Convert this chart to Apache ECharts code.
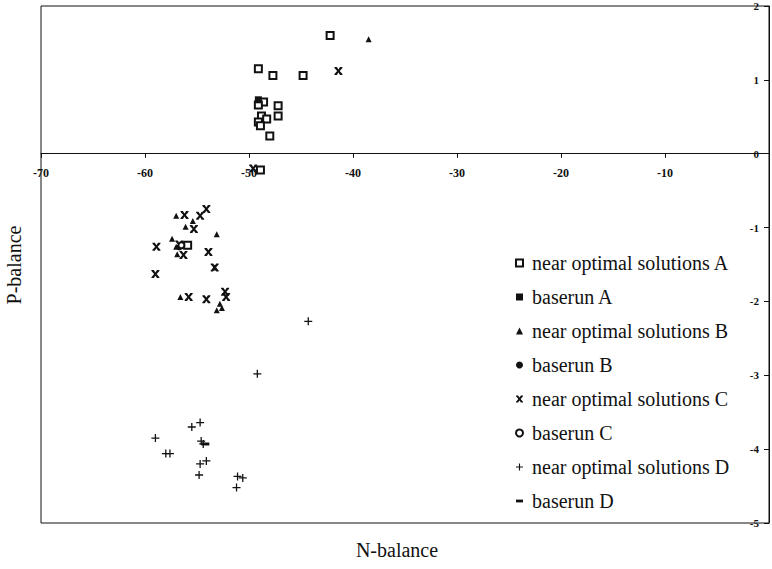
<!DOCTYPE html>
<html>
<head>
<meta charset="utf-8">
<title>N-balance vs P-balance</title>
<script src="https://cdn.jsdelivr.net/npm/echarts@6/dist/echarts.min.js"></script>
<style>
  html, body { margin: 0; padding: 0; background: #fff; }
  #chart { width: 772px; height: 569px; }
</style>
</head>
<body>
<div id="chart"></div>
<script>
// Axis ranges and ticks
const xRange = [-70, 0];
const xStep = 10;
const yRange = [-5, 2];
const yStep = 1;
const xTitle = 'N-balance';
const yTitle = 'P-balance';

// [N-balance, P-balance] pairs per series
const nearOptimalA = [[-42.2, 1.60], [-49.1, 1.15], [-47.7, 1.06], [-44.8, 1.06], [-48.6, 0.70],
  [-49.1, 0.66], [-47.2, 0.65], [-47.2, 0.51], [-48.8, 0.51], [-48.3, 0.47], [-49.1, 0.43],
  [-48.9, 0.38], [-48.0, 0.24], [-48.9, -0.22], [-55.9, -1.24]];
const baserunA = [[-49.1, 0.73]];
const nearOptimalB = [[-38.5, 1.55], [-57.0, -0.84], [-55.4, -0.91], [-56.1, -0.99], [-53.1, -1.09],
  [-57.4, -1.15], [-57.0, -1.26], [-56.9, -1.36], [-53.3, -1.54], [-56.6, -1.94], [-52.8, -2.03],
  [-52.6, -2.09], [-53.1, -2.12]];
const baserunB = [[-56.7, -1.27]];
const nearOptimalC = [[-41.4, 1.12], [-49.6, -0.20], [-56.2, -0.83], [-54.1, -0.75], [-54.7, -0.84],
  [-55.3, -1.02], [-58.9, -1.26], [-56.7, -1.23], [-56.3, -1.37], [-53.9, -1.33], [-53.3, -1.54],
  [-59.0, -1.63], [-55.8, -1.94], [-54.1, -1.97], [-52.3, -1.87], [-52.2, -1.94]];
const baserunC = [[-56.5, -1.24]];
const nearOptimalD = [[-44.3, -2.27], [-49.2, -2.98], [-54.7, -3.64], [-55.5, -3.70], [-59.0, -3.85],
  [-54.6, -3.89], [-54.4, -3.93], [-58.0, -4.06], [-57.6, -4.06], [-54.1, -4.16], [-54.7, -4.20],
  [-54.8, -4.35], [-51.1, -4.37], [-50.6, -4.39], [-51.2, -4.52]];
const baserunD = [[-54.2, -3.93]];

const seriesNames = ['near optimal solutions A', 'baserun A', 'near optimal solutions B', 'baserun B',
  'near optimal solutions C', 'baserun C', 'near optimal solutions D', 'baserun D'];

// Marker shapes
const xMarker = 'path://M0,0H3L5,3L7,0H10V1.2L6.6,5L10,8.8V10H7L5,7L3,10H0V8.8L3.4,5L0,1.2Z';
const plusMarker = 'path://M4.2,0H5.8V4.2H10V5.8H5.8V10H4.2V5.8H0V4.2H4.2Z';
const dashMarker = 'path://M0,0H10V4H0Z';

const serif = '"Liberation Serif", "DejaVu Serif", serif';
const ink = '#111';

// Plot box geometry; the N axis is drawn where P-balance equals zero
const gridTop = 6;
const gridBottom = 46;
const gridHeight = 569 - gridTop - gridBottom;
const zeroOffset = -gridHeight * (0 - yRange[0]) / (yRange[1] - yRange[0]);

function scatter(name, data, symbol, size, style) {
  return {
    name: name,
    type: 'scatter',
    data: data,
    symbol: symbol,
    symbolSize: size,
    itemStyle: Object.assign({ color: ink, opacity: 1 }, style || {}),
    emphasis: { disabled: true },
    z: 3
  };
}

const chart = echarts.init(document.getElementById('chart'), null, { renderer: 'svg' });

chart.setOption({
  backgroundColor: '#fff',
  animation: false,
  textStyle: { fontFamily: serif, color: ink },
  grid: {
    left: 41, top: gridTop, bottom: gridBottom, right: -1,
    show: true, borderColor: ink, borderWidth: 1, backgroundColor: 'transparent'
  },
  xAxis: {
    type: 'value',
    position: 'bottom',
    offset: zeroOffset,
    min: xRange[0], max: xRange[1], interval: xStep,
    axisLine: { onZero: false, lineStyle: { color: ink, width: 1 } },
    axisTick: { show: true, length: 4, lineStyle: { color: ink } },
    axisLabel: {
      margin: 13, fontSize: 12, fontWeight: 'bold', fontFamily: serif, color: ink,
      formatter: v => (v === 0 ? '' : String(v))
    },
    splitLine: { show: false }
  },
  yAxis: {
    type: 'value',
    position: 'right',
    min: yRange[0], max: yRange[1], interval: yStep,
    axisLine: { show: true, onZero: false, lineStyle: { color: ink, width: 1 } },
    axisTick: { show: true, inside: true, length: 5, lineStyle: { color: ink } },
    axisLabel: {
      inside: true, margin: 10, fontSize: 11, fontWeight: 'bold', fontFamily: serif, color: ink,
      padding: [4, 0, 0, 0]
    },
    splitLine: { show: false }
  },
  legend: {
    orient: 'vertical',
    left: 510, top: 247,
    itemWidth: 7, itemHeight: 7,
    itemGap: 12,
    selectedMode: false,
    data: seriesNames,
    textStyle: { fontFamily: serif, fontSize: 20, color: ink, lineHeight: 22, padding: [0, 0, 0, 4] }
  },
  graphic: [
    {
      type: 'text', x: 397, y: 540,
      style: { text: xTitle, font: '20px ' + serif, fill: ink, align: 'center', verticalAlign: 'top' }
    },
    {
      type: 'text', x: 4, y: 265, rotation: Math.PI / 2,
      style: { text: yTitle, font: '20px ' + serif, fill: ink, align: 'center', verticalAlign: 'top' }
    }
  ],
  series: [
    scatter(seriesNames[0], nearOptimalA, 'emptyRect', 7, { borderColor: ink, borderWidth: 1.3, color: ink }),
    scatter(seriesNames[1], baserunA, 'rect', 7),
    scatter(seriesNames[2], nearOptimalB, 'triangle', 6),
    scatter(seriesNames[3], baserunB, 'circle', 6),
    scatter(seriesNames[4], nearOptimalC, xMarker, 8),
    scatter(seriesNames[5], baserunC, 'emptyCircle', 6, { borderColor: ink, borderWidth: 1.2 }),
    scatter(seriesNames[6], nearOptimalD, plusMarker, 8),
    scatter(seriesNames[7], baserunD, dashMarker, [8, 3])
  ]
});
</script>
</body>
</html>
